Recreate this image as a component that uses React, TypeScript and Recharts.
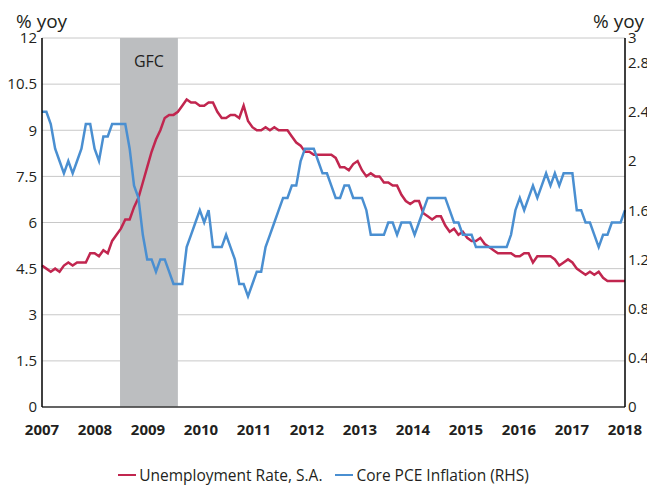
import React from 'react';
import {
    LineChart,
    Line,
    XAxis,
    YAxis,
    CartesianGrid,
    ReferenceArea,
    Legend,
} from 'recharts';

// monthly, Jan 2007 to Feb 2018
const unemployment = [
    4.6, 4.5, 4.4, 4.5, 4.4, 4.6, 4.7, 4.6, 4.7, 4.7, 4.7, 5.0,
    5.0, 4.9, 5.1, 5.0, 5.4, 5.6, 5.8, 6.1, 6.1, 6.5, 6.8, 7.3,
    7.8, 8.3, 8.7, 9.0, 9.4, 9.5, 9.5, 9.6, 9.8, 10.0, 9.9, 9.9,
    9.8, 9.8, 9.9, 9.9, 9.6, 9.4, 9.4, 9.5, 9.5, 9.4, 9.8, 9.3,
    9.1, 9.0, 9.0, 9.1, 9.0, 9.1, 9.0, 9.0, 9.0, 8.8, 8.6, 8.5,
    8.3, 8.3, 8.2, 8.2, 8.2, 8.2, 8.2, 8.1, 7.8, 7.8, 7.7, 7.9,
    8.0, 7.7, 7.5, 7.6, 7.5, 7.5, 7.3, 7.3, 7.2, 7.2, 6.9, 6.7,
    6.6, 6.7, 6.7, 6.3, 6.2, 6.1, 6.2, 6.2, 5.9, 5.7, 5.8, 5.6,
    5.7, 5.5, 5.4, 5.4, 5.5, 5.3, 5.2, 5.1, 5.0, 5.0, 5.0, 5.0,
    4.9, 4.9, 5.0, 5.0, 4.7, 4.9, 4.9, 4.9, 4.9, 4.8, 4.6, 4.7,
    4.8, 4.7, 4.5, 4.4, 4.3, 4.4, 4.3, 4.4, 4.2, 4.1, 4.1, 4.1,
    4.1, 4.1,
];

const corePce = [
    2.4, 2.4, 2.3, 2.1, 2.0, 1.9, 2.0, 1.9, 2.0, 2.1, 2.3, 2.3,
    2.1, 2.0, 2.2, 2.2, 2.3, 2.3, 2.3, 2.3, 2.1, 1.8, 1.7, 1.4,
    1.2, 1.2, 1.1, 1.2, 1.2, 1.1, 1.0, 1.0, 1.0, 1.3, 1.4, 1.5,
    1.6, 1.5, 1.6, 1.3, 1.3, 1.3, 1.4, 1.3, 1.2, 1.0, 1.0, 0.9,
    1.0, 1.1, 1.1, 1.3, 1.4, 1.5, 1.6, 1.7, 1.7, 1.8, 1.8, 2.0,
    2.1, 2.1, 2.1, 2.0, 1.9, 1.9, 1.8, 1.7, 1.7, 1.8, 1.8, 1.7,
    1.7, 1.7, 1.6, 1.4, 1.4, 1.4, 1.4, 1.5, 1.5, 1.4, 1.5, 1.5,
    1.5, 1.4, 1.5, 1.6, 1.7, 1.7, 1.7, 1.7, 1.7, 1.6, 1.5, 1.5,
    1.4, 1.4, 1.4, 1.3, 1.3, 1.3, 1.3, 1.3, 1.3, 1.3, 1.3, 1.4,
    1.6, 1.7, 1.6, 1.7, 1.8, 1.7, 1.8, 1.9, 1.8, 1.9, 1.8, 1.9,
    1.9, 1.9, 1.6, 1.6, 1.5, 1.5, 1.4, 1.3, 1.4, 1.4, 1.5, 1.5,
    1.5, 1.6,
];

const years = ['2007', '2008', '2009', '2010', '2011', '2012', '2013', '2014', '2015', '2016', '2017', '2018'];
const leftTicks = [0, 1.5, 3, 4.5, 6, 7.5, 9, 10.5, 12];
const rightTicks = [0, 0.4, 0.8, 1.2, 1.6, 2, 2.4, 2.8, 3];
const seriesNames = ['Unemployment Rate, S.A.', 'Core PCE Inflation (RHS)'];
// GFC shading, in months from the start of the series
const gfcStart = 17.8;
const gfcEnd = 31;

const RED = '#c1264f';
const BLUE = '#4a8fd1';
const TEXT = '#231f20';
const FONT = "'Open Sans', sans-serif";

const data = unemployment.map((u, i) => ({ i, unemployment: u, corePce: corePce[i] }));
const lastIdx = data.length - 1;
const xTicks = years.map((_, k) => (k * lastIdx) / (years.length - 1));

const yTick = { fill: TEXT, fontSize: 15, fontFamily: FONT };

function LegendRow({ payload }: any) {
    const items = [...(payload || [])].sort(
        (a: any, b: any) => seriesNames.indexOf(a.value) - seriesNames.indexOf(b.value)
    );
    return (
        <div style={{ display: 'flex', justifyContent: 'center', alignItems: 'center', height: 20, fontFamily: FONT, fontSize: 15.5, color: TEXT }}>
            {items.map((p: any, k: number) => (
                <div key={p.value} style={{ display: 'flex', alignItems: 'center', marginLeft: k ? 13 : 0 }}>
                    <span style={{ display: 'inline-block', width: 18, height: 2.5, background: p.color, marginRight: 3 }} />
                    <span>{p.value}</span>
                </div>
            ))}
        </div>
    );
}

const unitStyle: React.CSSProperties = {
    position: 'absolute',
    top: 12,
    fontFamily: FONT,
    fontSize: 19,
    color: TEXT,
    lineHeight: '18px',
    whiteSpace: 'nowrap',
};

export default function App() {
    return (
        <div style={{ position: 'absolute', left: 0, top: 0, width: 647, height: 486, background: '#fff', overflow: 'hidden' }}>
            <div style={{ ...unitStyle, left: 16 }}>% yoy</div>
            <div style={{ ...unitStyle, left: 593 }}>% yoy</div>
            <LineChart width={647} height={486} data={data} margin={{ top: 38, right: 0, left: 0, bottom: 1 }}>
                <CartesianGrid yAxisId="left" vertical={false} stroke="#c8c8c8" strokeWidth={1} />
                <ReferenceArea
                    yAxisId="left"
                    x1={gfcStart}
                    x2={gfcEnd}
                    fill="#bcbec0"
                    fillOpacity={1}
                    stroke="none"
                    label={{ value: 'GFC', position: 'insideTop', offset: 18, fill: TEXT, fontSize: 16, fontFamily: FONT }}
                />
                <XAxis
                    dataKey="i"
                    type="number"
                    domain={[0, lastIdx]}
                    ticks={xTicks}
                    interval={0}
                    tickFormatter={(_v: number, idx: number) => years[idx]}
                    tick={{ fill: TEXT, fontSize: 15, fontWeight: 700, fontFamily: FONT }}
                    tickLine={false}
                    tickSize={0}
                    tickMargin={17}
                    axisLine={{ stroke: '#3a3a3a', strokeWidth: 1.5 }}
                    height={58}
                />
                <YAxis
                    yAxisId="left"
                    domain={[0, 12]}
                    ticks={leftTicks}
                    interval={0}
                    width={42}
                    tick={yTick}
                    tickLine={false}
                    tickSize={0}
                    tickMargin={5}
                    axisLine={{ stroke: '#000', strokeWidth: 1.5 }}
                />
                <YAxis
                    yAxisId="right"
                    orientation="right"
                    domain={[0, 3]}
                    ticks={rightTicks}
                    interval={0}
                    width={22}
                    tick={{ ...yTick, textAnchor: 'start' }}
                    tickLine={false}
                    tickSize={0}
                    tickMargin={3}
                    axisLine={{ stroke: '#000', strokeWidth: 1.5 }}
                />
                <Legend verticalAlign="bottom" align="center" content={<LegendRow />} />
                <Line
                    yAxisId="left"
                    type="linear"
                    dataKey="unemployment"
                    name={seriesNames[0]}
                    stroke={RED}
                    strokeWidth={2.5}
                    dot={false}
                    isAnimationActive={false}
                />
                <Line
                    yAxisId="right"
                    type="linear"
                    dataKey="corePce"
                    name={seriesNames[1]}
                    stroke={BLUE}
                    strokeWidth={2.5}
                    dot={false}
                    isAnimationActive={false}
                />
            </LineChart>
        </div>
    );
}
